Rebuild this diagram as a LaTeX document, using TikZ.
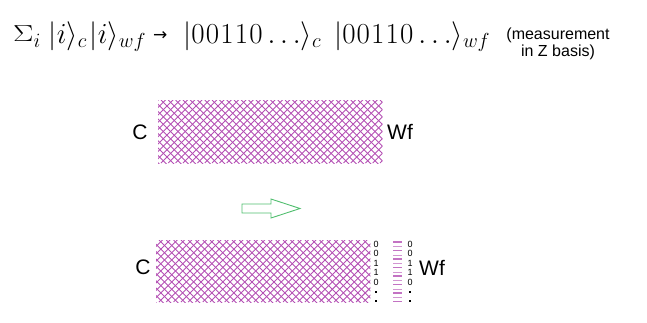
\RequirePackage{fix-cm}
\documentclass[tikz,border=0pt]{standalone}
\usepackage{fontspec}
\usepackage{amsmath}
\newfontfamily\arial{Liberation Sans}
\newfontfamily\dejavu{DejaVu Sans}
\definecolor{hatchc}{RGB}{180,80,180}
\definecolor{arrowg}{RGB}{80,190,110}
\newcommand{\kdig}{\kern1.2pt}
\tikzset{
  hatchline/.style={draw=hatchc, line width=0.9pt},
  lbl/.style={font=\arial\fontsize{21}{24}\selectfont, inner sep=0pt},
  digit/.style={font=\arial\fontsize{9}{10}\selectfont, inner sep=0pt, anchor=base},
  box/.style={draw=none, inner sep=0pt, anchor=north west},
  thickbar/.style={draw=hatchc, line width=1.5pt, opacity=0.8},
  thinbar/.style={draw=hatchc, line width=0.6pt, opacity=0.6},
  dotmark/.style={fill=black, minimum size=2pt, inner sep=0pt},
}
\begin{document}
\begin{tikzpicture}[x=1pt,y=-1pt]
\useasboundingbox (0,0) rectangle (647,322);
% formula
\node[anchor=base west, inner sep=0pt] (formula) at (13,43)
  {\fontsize{29}{34}\selectfont$%
  {\raisebox{2pt}{\scalebox{1.05}[0.8]{$\Sigma$}}}_i\hspace{8pt}%
  |i\rangle_c\hspace{3pt}|i\rangle_{wf}\hspace{7pt}%
  \text{\raisebox{3pt}{\dejavu\fontsize{17}{17}\selectfont →}}\hspace{16pt}%
  |0\kdig0\kdig1\kdig1\kdig0\ldots\rangle_c\hspace{13pt}%
  |0\kdig0\kdig1\kdig1\kdig0\ldots\rangle_{wf}$};
\node[align=center, font=\arial\fontsize{16}{17}\selectfont, inner sep=0pt] (note) at (558,44)
  {(measurement\\in Z basis)};
% top box
\node[box, minimum width=224pt, minimum height=63pt] (topbox) at (158,100) {};
\begin{scope}
  \clip (topbox.north west) rectangle (topbox.south east);
  \foreach \k in {0,1,...,40} {
    \draw[hatchline] (88+7.3*\k,100) -- ++(70,70);
    \draw[hatchline] (88+7.3*\k,163) -- ++(70,-70);
  }
\end{scope}
\node[lbl] (topC) at (140,132) {C};
\node[lbl, anchor=west] (topWf) at (387,132) {Wf};
% arrow
\draw[arrowg, line width=0.9pt] (242,204) -- (271,204) -- (271,199) -- (300,208.5)
  -- (271,218) -- (271,213) -- (242,213) -- cycle;
% bottom box
\node[box, minimum width=214pt, minimum height=62pt] (botbox) at (156,240) {};
\begin{scope}
  \clip (botbox.north west) rectangle (botbox.south east);
  \foreach \k in {0,1,...,40} {
    \draw[hatchline] (86+7.3*\k,240) -- ++(70,70);
    \draw[hatchline] (86+7.3*\k,302) -- ++(70,-70);
  }
\end{scope}
\node[lbl] (botC) at (143,267) {C};
\node[lbl, anchor=west] (botWf) at (419,268) {Wf};
% digits
\foreach \d [count=\i from 0] in {0,0,1,1,0} {
  \node[digit] (da\i) at (376,247.5+9.4*\i) {\d};
  \node[digit] (db\i) at (410,247.5+9.4*\i) {\d};
}
\foreach \i in {5,6} {
  \node[dotmark] (da\i) at (376,245+9.4*\i) {};
  \node[dotmark] (db\i) at (410,245+9.4*\i) {};
}
% bars
\foreach \i in {0,...,7} {
  \draw[thickbar] (393,242+8.5*\i) -- (402,242+8.5*\i);
}
\foreach \i in {0,...,6} {
  \draw[thinbar] (393,246.3+8.5*\i) -- (402,246.3+8.5*\i);
}
\end{tikzpicture}
\end{document}
